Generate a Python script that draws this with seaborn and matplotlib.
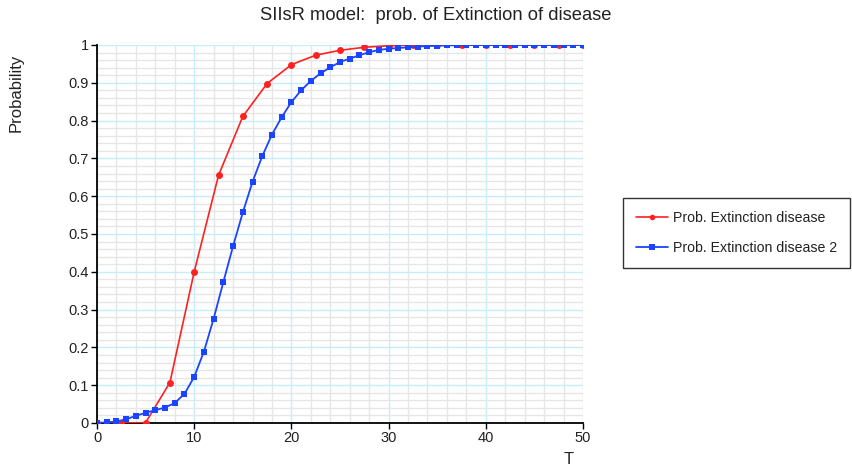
import numpy as np
import pandas as pd
import matplotlib
matplotlib.use("Agg")
import matplotlib.pyplot as plt
import seaborn as sns
from matplotlib.ticker import MultipleLocator, FuncFormatter

# ---- data ----
t_red = [0, 2.5, 5, 7.5, 10, 12.5, 15, 17.5, 20, 22.5, 25, 27.5, 30, 32.5,
         35, 37.5, 40, 42.5, 45, 47.5, 50]
p_red = [0.0, 0.0, 0.001, 0.107, 0.400, 0.655, 0.811, 0.898, 0.948, 0.973,
         0.986, 0.994, 0.998, 1.0, 1.0, 1.0, 1.0, 1.0, 1.0, 1.0, 1.0]

t_blue = list(range(0, 51))
p_blue = [0.0, 0.002, 0.004, 0.010, 0.019, 0.027, 0.034, 0.041, 0.053, 0.077,
          0.122, 0.189, 0.276, 0.373, 0.468, 0.557, 0.638, 0.706, 0.763, 0.809,
          0.849, 0.880, 0.905, 0.925, 0.941, 0.955, 0.964, 0.973, 0.981, 0.987,
          0.990, 0.992, 0.994, 0.996, 0.997, 0.998, 0.999, 0.999, 1.0, 1.0,
          1.0, 1.0, 1.0, 1.0, 1.0, 1.0, 1.0, 1.0, 1.0, 1.0, 1.0]

series_names = ["Prob. Extinction disease", "Prob. Extinction disease 2"]
title = "SIIsR model:  prob. of Extinction of disease"
xlabel = "T"
ylabel = "Probability"

sns.set_theme(style="white")
plt.rcParams['font.family'] = ['Liberation Sans', 'DejaVu Sans']

fig = plt.figure(figsize=(8.52, 4.67), dpi=100)
ax = fig.add_axes([97/852, 1-423/467, (583-97)/852, (423-45)/467])

df_red = pd.DataFrame({"T": t_red, "P": p_red})
df_blue = pd.DataFrame({"T": t_blue, "P": p_blue})

sns.lineplot(data=df_red, x="T", y="P", ax=ax, color="#ff2020", lw=1.2,
             marker="o", markersize=5, markeredgewidth=0,
             label=series_names[0], zorder=3)
sns.lineplot(data=df_blue, x="T", y="P", ax=ax, color="#1a44ff", lw=1.3,
             marker="s", markersize=5.0, markeredgewidth=0,
             label=series_names[1], zorder=4)

ax.set_xlim(0, 50)
ax.set_ylim(0, 1)
ax.xaxis.set_major_locator(MultipleLocator(10))
ax.xaxis.set_minor_locator(MultipleLocator(2))
ax.yaxis.set_major_locator(MultipleLocator(0.1))
ax.yaxis.set_minor_locator(MultipleLocator(0.02))
ax.yaxis.set_major_formatter(FuncFormatter(
    lambda v, p: str(int(round(v))) if abs(v - round(v)) < 1e-9 else f"{v:.1f}"))

ax.grid(which="minor", color="#e6e6e6", lw=1.0, zorder=0)
ax.grid(which="major", color="#c4eefa", lw=1.0, zorder=1)
ax.set_axisbelow(True)

for s in ["top", "right"]:
    ax.spines[s].set_visible(False)
for s in ["left", "bottom"]:
    ax.spines[s].set_color("black")
    ax.spines[s].set_linewidth(1.3)

ax.tick_params(which="major", direction="out", length=4, width=1, color="black",
               labelsize=10.5, labelcolor="#222222", left=True, bottom=True, pad=2)
ax.tick_params(which="minor", length=0)

ax.set_xlabel("")
ax.set_ylabel("")
fig.text(569/852, 1-460/467, xlabel, ha="center", va="center", fontsize=12, color="#222222")
fig.text(16/852, 1-93/467, ylabel, ha="center", va="center", rotation=90, fontsize=12, color="#222222")
fig.text(436/852, 1-16/467, title, ha="center", va="center", fontsize=13.2, color="#222222")

leg = ax.legend(loc="center", bbox_to_anchor=(623/852, 1-267/467, (850-623)/852, 68/467),
                bbox_transform=fig.transFigure, mode="expand", frameon=True, fancybox=False,
                fontsize=10.2, borderpad=0.9, handlelength=2.3, labelspacing=1.1,
                handletextpad=0.3, borderaxespad=0, markerscale=0.8)
leg.get_frame().set_edgecolor("black")
leg.get_frame().set_linewidth(1.0)
for txt in leg.get_texts():
    txt.set_color("#222222")

fig.savefig("out.png", dpi=100)
